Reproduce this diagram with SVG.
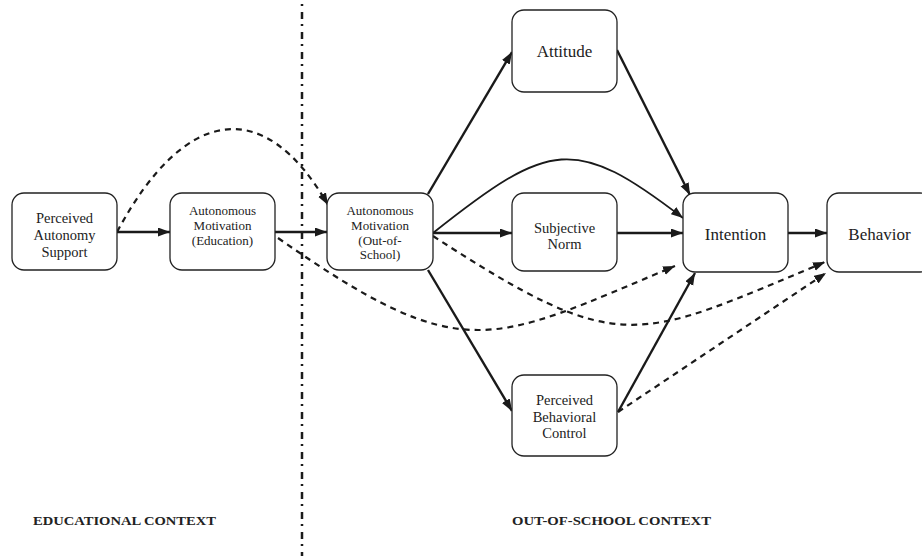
<svg xmlns="http://www.w3.org/2000/svg" width="922" height="556" viewBox="0 0 922 556" font-family="'Liberation Serif', 'Times New Roman', serif">
<style>
.box{fill:#fff;stroke:#222;stroke-width:1.3}
text{font-family:'Liberation Serif','Times New Roman',serif}
.t{fill:#222;text-anchor:middle}
.s{fill:none;stroke:#1a1a1a;stroke-width:2.4}
.d{fill:none;stroke:#1a1a1a;stroke-width:2.2;stroke-dasharray:6 5}
.ctx{font-weight:bold;font-size:13.5px;fill:#222}
</style>
<defs>
<marker id="ah" markerUnits="userSpaceOnUse" markerWidth="13" markerHeight="10" refX="12" refY="4.5" orient="auto">
<path d="M0,0 L12,4.5 L0,9 z" fill="#1a1a1a"/>
</marker>
</defs>
<rect width="922" height="556" fill="#fff"/>
<line x1="302" y1="0" x2="302" y2="556" stroke="#1a1a1a" stroke-width="2.5" stroke-dasharray="7 5 2 6" stroke-dashoffset="8"/>
<g id="connectors">
<line class="s" x1="117" y1="232" x2="170" y2="232" marker-end="url(#ah)"/>
<line class="s" x1="275" y1="232" x2="327" y2="232" marker-end="url(#ah)"/>
<path class="d" d="M117,232 C185,105 265,95 328,205" marker-end="url(#ah)"/>
<path class="d" d="M278,238 C464,368 489,344 675,266" marker-end="url(#ah)"/>
<path class="d" d="M433,236 C622,359 636,341 825,262" marker-end="url(#ah)"/>
<line class="s" x1="428" y1="194" x2="512" y2="52" marker-end="url(#ah)"/>
<line class="s" x1="433" y1="233" x2="512" y2="233" marker-end="url(#ah)"/>
<line class="s" x1="428" y1="270" x2="512" y2="411" marker-end="url(#ah)"/>
<path class="s" style="stroke-width:1.8" d="M433,233 C550,140 575,135 683,218" marker-end="url(#ah)"/>
<line class="s" x1="617" y1="50" x2="690" y2="195" marker-end="url(#ah)"/>
<line class="s" x1="617" y1="233" x2="683" y2="233" marker-end="url(#ah)"/>
<line class="s" x1="618" y1="412" x2="695" y2="273" marker-end="url(#ah)"/>
<line class="d" x1="618" y1="412" x2="826" y2="273" marker-end="url(#ah)"/>
<line class="s" x1="788" y1="233" x2="827" y2="233" marker-end="url(#ah)"/>
</g>
<g id="pas">
<rect class="box" x="12" y="193" width="105" height="77" rx="12"/>
<text class="t" font-size="14.5" x="64.5" y="223">Perceived</text>
<text class="t" font-size="14.5" x="64.5" y="240">Autonomy</text>
<text class="t" font-size="14.5" x="64.5" y="257">Support</text>
</g>
<g id="ame">
<rect class="box" x="170" y="193" width="105" height="77" rx="12"/>
<text class="t" font-size="13" x="222.5" y="215">Autonomous</text>
<text class="t" font-size="13" x="222.5" y="230">Motivation</text>
<text class="t" font-size="13" x="222.5" y="245">(Education)</text>
</g>
<g id="amo">
<rect class="box" x="327" y="193" width="106" height="77" rx="12"/>
<text class="t" font-size="13" x="380" y="215">Autonomous</text>
<text class="t" font-size="13" x="380" y="230">Motivation</text>
<text class="t" font-size="13" x="380" y="244.5">(Out-of-</text>
<text class="t" font-size="13" x="380" y="259">School)</text>
</g>
<g id="attitude">
<rect class="box" x="512" y="10" width="105" height="82" rx="12"/>
<text class="t" font-size="17" x="564.5" y="57">Attitude</text>
</g>
<g id="sn">
<rect class="box" x="512" y="193" width="105" height="78" rx="12"/>
<text class="t" font-size="14.5" x="564.5" y="233">Subjective</text>
<text class="t" font-size="14.5" x="564.5" y="249">Norm</text>
</g>
<g id="pbc">
<rect class="box" x="512" y="375" width="105" height="81" rx="12"/>
<text class="t" font-size="14.5" x="564.5" y="405">Perceived</text>
<text class="t" font-size="14.5" x="564.5" y="422">Behavioral</text>
<text class="t" font-size="14.5" x="564.5" y="438">Control</text>
</g>
<g id="intention">
<rect class="box" x="683" y="193" width="105" height="79" rx="12"/>
<text class="t" font-size="17" x="735.5" y="240">Intention</text>
</g>
<g id="behavior">
<rect class="box" x="827" y="193" width="105" height="79" rx="12"/>
<text class="t" font-size="17" x="879.5" y="240">Behavior</text>
</g>
<text class="ctx" x="33" y="525" textLength="183" lengthAdjust="spacingAndGlyphs">EDUCATIONAL CONTEXT</text>
<text class="ctx" x="512" y="525" textLength="199" lengthAdjust="spacingAndGlyphs">OUT-OF-SCHOOL CONTEXT</text>
</svg>
